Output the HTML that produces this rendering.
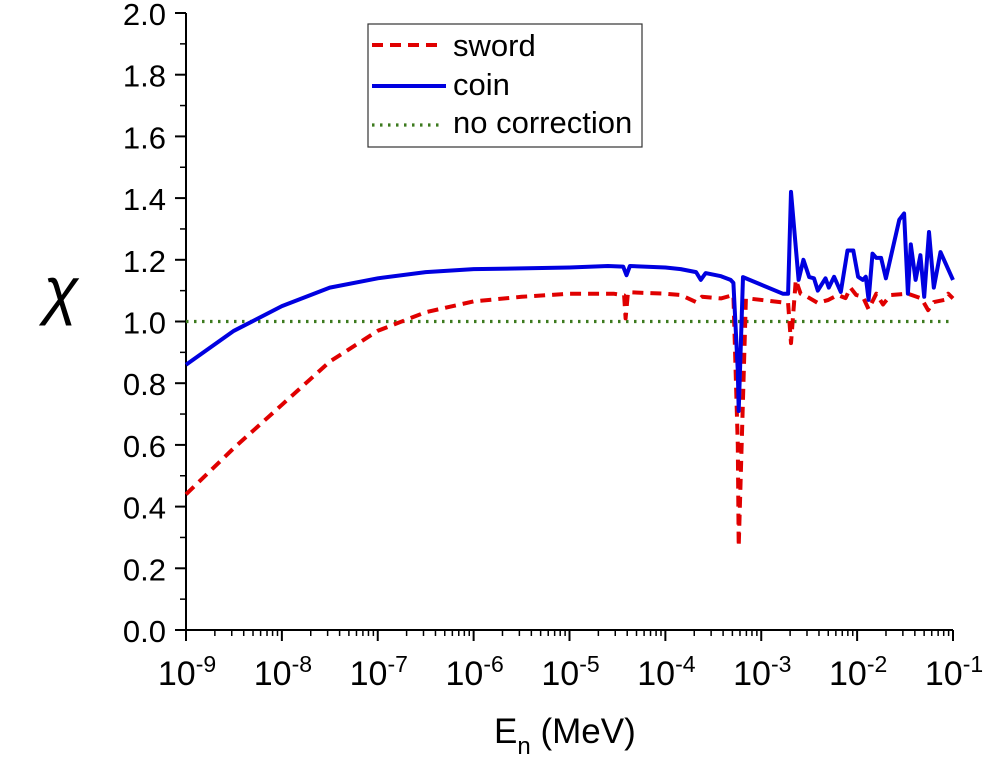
<!DOCTYPE html>
<html><head><meta charset="utf-8"><style>
html,body{margin:0;padding:0;background:#fff;}
svg text{font-family:"Liberation Sans",Arial,sans-serif;fill:#000;}
</style></head><body>
<svg id="chart" width="983" height="770" viewBox="0 0 983 770" xmlns="http://www.w3.org/2000/svg">
<g id="axes"></g>
<g id="series"></g>
<g>
<rect x="368" y="24" width="274" height="123" fill="#fff" stroke="#333" stroke-width="1.2"/>
<line x1="372" y1="45" x2="440" y2="45" stroke="#e00000" stroke-width="4" stroke-dasharray="11,7"/>
<text x="453" y="56" font-size="31">sword</text>
<line x1="372" y1="86" x2="446" y2="86" stroke="#0000e0" stroke-width="4"/>
<text x="453" y="95" font-size="31">coin</text>
<line x1="372" y1="125" x2="442" y2="125" stroke="#3c7a1e" stroke-width="3.2" stroke-dasharray="2.5,5.5"/>
<text x="453" y="133" font-size="31">no correction</text>
</g>
<text x="61" y="312" font-size="64" font-style="italic" font-family="Liberation Serif, serif" text-anchor="middle">χ</text>
<text x="494" y="743" font-size="35">E<tspan font-size="24" dy="11">n</tspan><tspan dy="-11"> (MeV)</tspan></text>
</svg>
<script>
const yTicks=[0,0.2,0.4,0.6,0.8,1.0,1.2,1.4,1.6,1.8,2.0];
const xDecades=[-9,-8,-7,-6,-5,-4,-3,-2,-1];
const coinLogE=[-9,-8.5,-8,-7.5,-7,-6.5,-6,-5.5,-5,-4.6,-4.44,-4.405,-4.37,-4.0,-3.84,-3.68,-3.63,-3.58,-3.42,-3.32,-3.29,-3.245,-3.235,-3.19,-2.775,-2.72,-2.69,-2.61,-2.56,-2.50,-2.45,-2.41,-2.33,-2.295,-2.24,-2.17,-2.10,-2.04,-1.99,-1.94,-1.91,-1.88,-1.84,-1.80,-1.75,-1.70,-1.56,-1.51,-1.47,-1.44,-1.39,-1.34,-1.30,-1.25,-1.20,-1.13,-1.0];
const coinChi=[0.86,0.97,1.05,1.11,1.14,1.16,1.17,1.172,1.175,1.18,1.178,1.15,1.18,1.175,1.17,1.16,1.135,1.157,1.147,1.135,1.125,0.84,0.71,1.144,1.09,1.09,1.42,1.135,1.2,1.144,1.14,1.10,1.14,1.11,1.145,1.096,1.23,1.23,1.145,1.135,1.145,1.07,1.22,1.206,1.206,1.14,1.33,1.35,1.09,1.25,1.135,1.215,1.08,1.29,1.11,1.225,1.135];
const swordLogE=[-9,-8.5,-8,-7.5,-7,-6.5,-6,-5.5,-5,-4.54,-4.43,-4.415,-4.39,-4.0,-3.84,-3.68,-3.62,-3.42,-3.29,-3.245,-3.235,-3.16,-3.14,-2.72,-2.69,-2.64,-2.59,-2.52,-2.41,-2.30,-2.20,-2.12,-2.07,-2.01,-1.94,-1.88,-1.80,-1.73,-1.65,-1.47,-1.33,-1.26,-1.20,-1.09,-1.05,-1.0];
const swordChi=[0.44,0.59,0.73,0.87,0.97,1.03,1.065,1.08,1.09,1.09,1.085,1.01,1.095,1.09,1.086,1.063,1.08,1.075,1.086,0.6,0.27,1.075,1.075,1.06,0.93,1.135,1.09,1.08,1.06,1.07,1.086,1.076,1.11,1.086,1.08,1.04,1.09,1.055,1.086,1.09,1.075,1.037,1.063,1.07,1.09,1.075];
const refChi=1.0;
const X0=186,X1=953,Y0=630,Y1=13;
function xs(l){return X0+(l-(-9))/8*(X1-X0);}
function ys(v){return Y0-(v/2)*(Y0-Y1);}
const NS="http://www.w3.org/2000/svg";
const axes=document.getElementById('axes');
function mk(tag,attrs,parent,txt){const e=document.createElementNS(NS,tag);for(const k in attrs)e.setAttribute(k,attrs[k]);if(txt!==undefined)e.textContent=txt;parent.appendChild(e);return e;}
let e;
e=mk('line',{x1:X0,y1:Y1,x2:X0,y2:Y0,stroke:'#000','stroke-width':2},axes);


e=mk('line',{x1:X0,y1:Y0,x2:X1,y2:Y0,stroke:'#000','stroke-width':2},axes);


yTicks.forEach((v,i)=>{
 e=mk('line',{x1:X0-11,y1:ys(v),x2:X0,y2:ys(v),stroke:'#000','stroke-width':2},axes);
 
 
 if(i<yTicks.length-1){
  e=mk('line',{x1:X0-6,y1:ys(v+0.1),x2:X0,y2:ys(v+0.1),stroke:'#000','stroke-width':1.5},axes);
  
  
 }
 e=mk('text',{x:X0-20,y:ys(v)+12,'font-size':31,'text-anchor':'end'},axes,v.toFixed(1));
 
 
});
xDecades.forEach((d,i)=>{
 const x=xs(d);
 e=mk('line',{x1:x,y1:Y0,x2:x,y2:Y0+11,stroke:'#000','stroke-width':2},axes);
 
 
 if(i<xDecades.length-1){for(let m=2;m<10;m++){
  e=mk('line',{x1:xs(d+Math.log10(m)),y1:Y0,x2:xs(d+Math.log10(m)),y2:Y0+6,stroke:'#000','stroke-width':1.5},axes);
  
  
 }}
 const t=mk('text',{x:x+1,y:685,'font-size':34,'text-anchor':'middle'},axes);
 
 
 mk('tspan',{},t,'10');
 mk('tspan',{dy:-13,'font-size':23},t,String(d));
});
const ser=document.getElementById('series');
function path(lx,vy){return lx.map((l,i)=>(i?'L':'M')+xs(l).toFixed(1)+','+ys(vy[i]).toFixed(1)).join('');}
e=mk('line',{x1:xs(-9),y1:ys(refChi),x2:xs(-1),y2:ys(refChi),stroke:'#3c7a1e','stroke-width':3.2,'stroke-dasharray':'2.5,5.5'},ser);


e=mk('path',{d:path(swordLogE,swordChi),fill:'none',stroke:'#e00000','stroke-width':4,'stroke-dasharray':'11,7','stroke-linejoin':'round'},ser);


e=mk('path',{d:path(coinLogE,coinChi),fill:'none',stroke:'#0000e0','stroke-width':4,'stroke-linejoin':'round'},ser);


</script>
</body></html>
